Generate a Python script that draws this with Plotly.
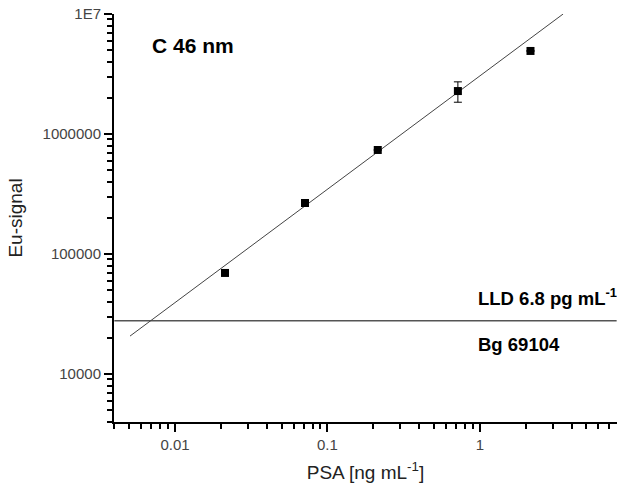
import plotly.graph_objects as go

# Data
psa = [0.0213, 0.0713, 0.214, 0.718, 2.15]
signal = [69500, 266000, 736000, 2280000, 4920000]
signal_err = [0, 0, 0, 440000, 0]

fit_x = [0.00507, 3.52]
fit_y = [20700, 10000000]

bg_x = [0.004, 7.9]
bg_y = [27800, 27800]

y_tickvals = [10000, 100000, 1000000, 10000000]
y_ticktext = ["10000", "100000", "1000000", "1E7"]
x_tickvals = [0.01, 0.1, 1]
x_ticktext = ["0.01", "0.1", "1"]

fig = go.Figure()
fig.add_trace(go.Scatter(x=bg_x, y=bg_y, mode="lines",
                         line=dict(color="#555555", width=1.5), showlegend=False))
fig.add_trace(go.Scatter(x=fit_x, y=fit_y, mode="lines",
                         line=dict(color="#444444", width=1), showlegend=False))
fig.add_trace(go.Scatter(x=psa, y=signal, mode="markers",
                         marker=dict(symbol="square", size=8, color="black"),
                         error_y=dict(type="data", array=signal_err, visible=True,
                                      color="black", thickness=1, width=4),
                         showlegend=False))

font = "Liberation Sans, Arial, sans-serif"
fig.update_layout(
    width=617, height=494,
    margin=dict(l=114, r=0, t=14, b=72),
    paper_bgcolor="white", plot_bgcolor="white",
    font=dict(family=font, color="#333333"),
    xaxis=dict(type="log", range=[-2.4, 0.9], tickvals=x_tickvals, ticktext=x_ticktext,
               automargin=False,
               showgrid=False, zeroline=False, showline=True, linecolor="black", linewidth=2,
               ticks="outside", ticklen=8, tickwidth=2, tickcolor="black",
               tickfont=dict(size=15, color="#444444"),
               minor=dict(ticks="outside", ticklen=5, tickwidth=2, tickcolor="black",
                          dtick="D1", showgrid=False),
               title=dict(text="PSA [ng mL<sup>-1</sup>]", standoff=14,
                          font=dict(size=19, color="#222222"))),
    yaxis=dict(type="log", range=[3.6, 7.0], tickvals=y_tickvals, ticktext=y_ticktext,
               automargin=False,
               showgrid=False, zeroline=False, showline=True, linecolor="black", linewidth=2,
               ticks="outside", ticklen=8, tickwidth=2, tickcolor="black",
               tickfont=dict(size=15, color="#444444"),
               minor=dict(ticks="outside", ticklen=5, tickwidth=2, tickcolor="black",
                          dtick="D1", showgrid=False),
               title=dict(text="Eu-signal", standoff=15,
                          font=dict(size=19, color="#222222"))),
    annotations=[
        dict(text="<b>C 46 nm</b>", xref="paper", yref="paper", x=0.0716, y=0.924,
             xanchor="left", yanchor="middle", showarrow=False,
             font=dict(size=21, color="black", family=font)),
        dict(text="<b>LLD 6.8 pg mL<sup>-1</sup></b>", xref="paper", yref="paper", x=0.72, y=0.306,
             xanchor="left", yanchor="middle", showarrow=False,
             font=dict(size=18.5, color="black", family=font)),
        dict(text="<b>Bg 69104</b>", xref="paper", yref="paper", x=0.72, y=0.189,
             xanchor="left", yanchor="middle", showarrow=False,
             font=dict(size=18.5, color="black", family=font)),
    ],
)

fig.write_html("out.html", config={"displayModeBar": False},
               post_script="document.body.style.margin='0';")
